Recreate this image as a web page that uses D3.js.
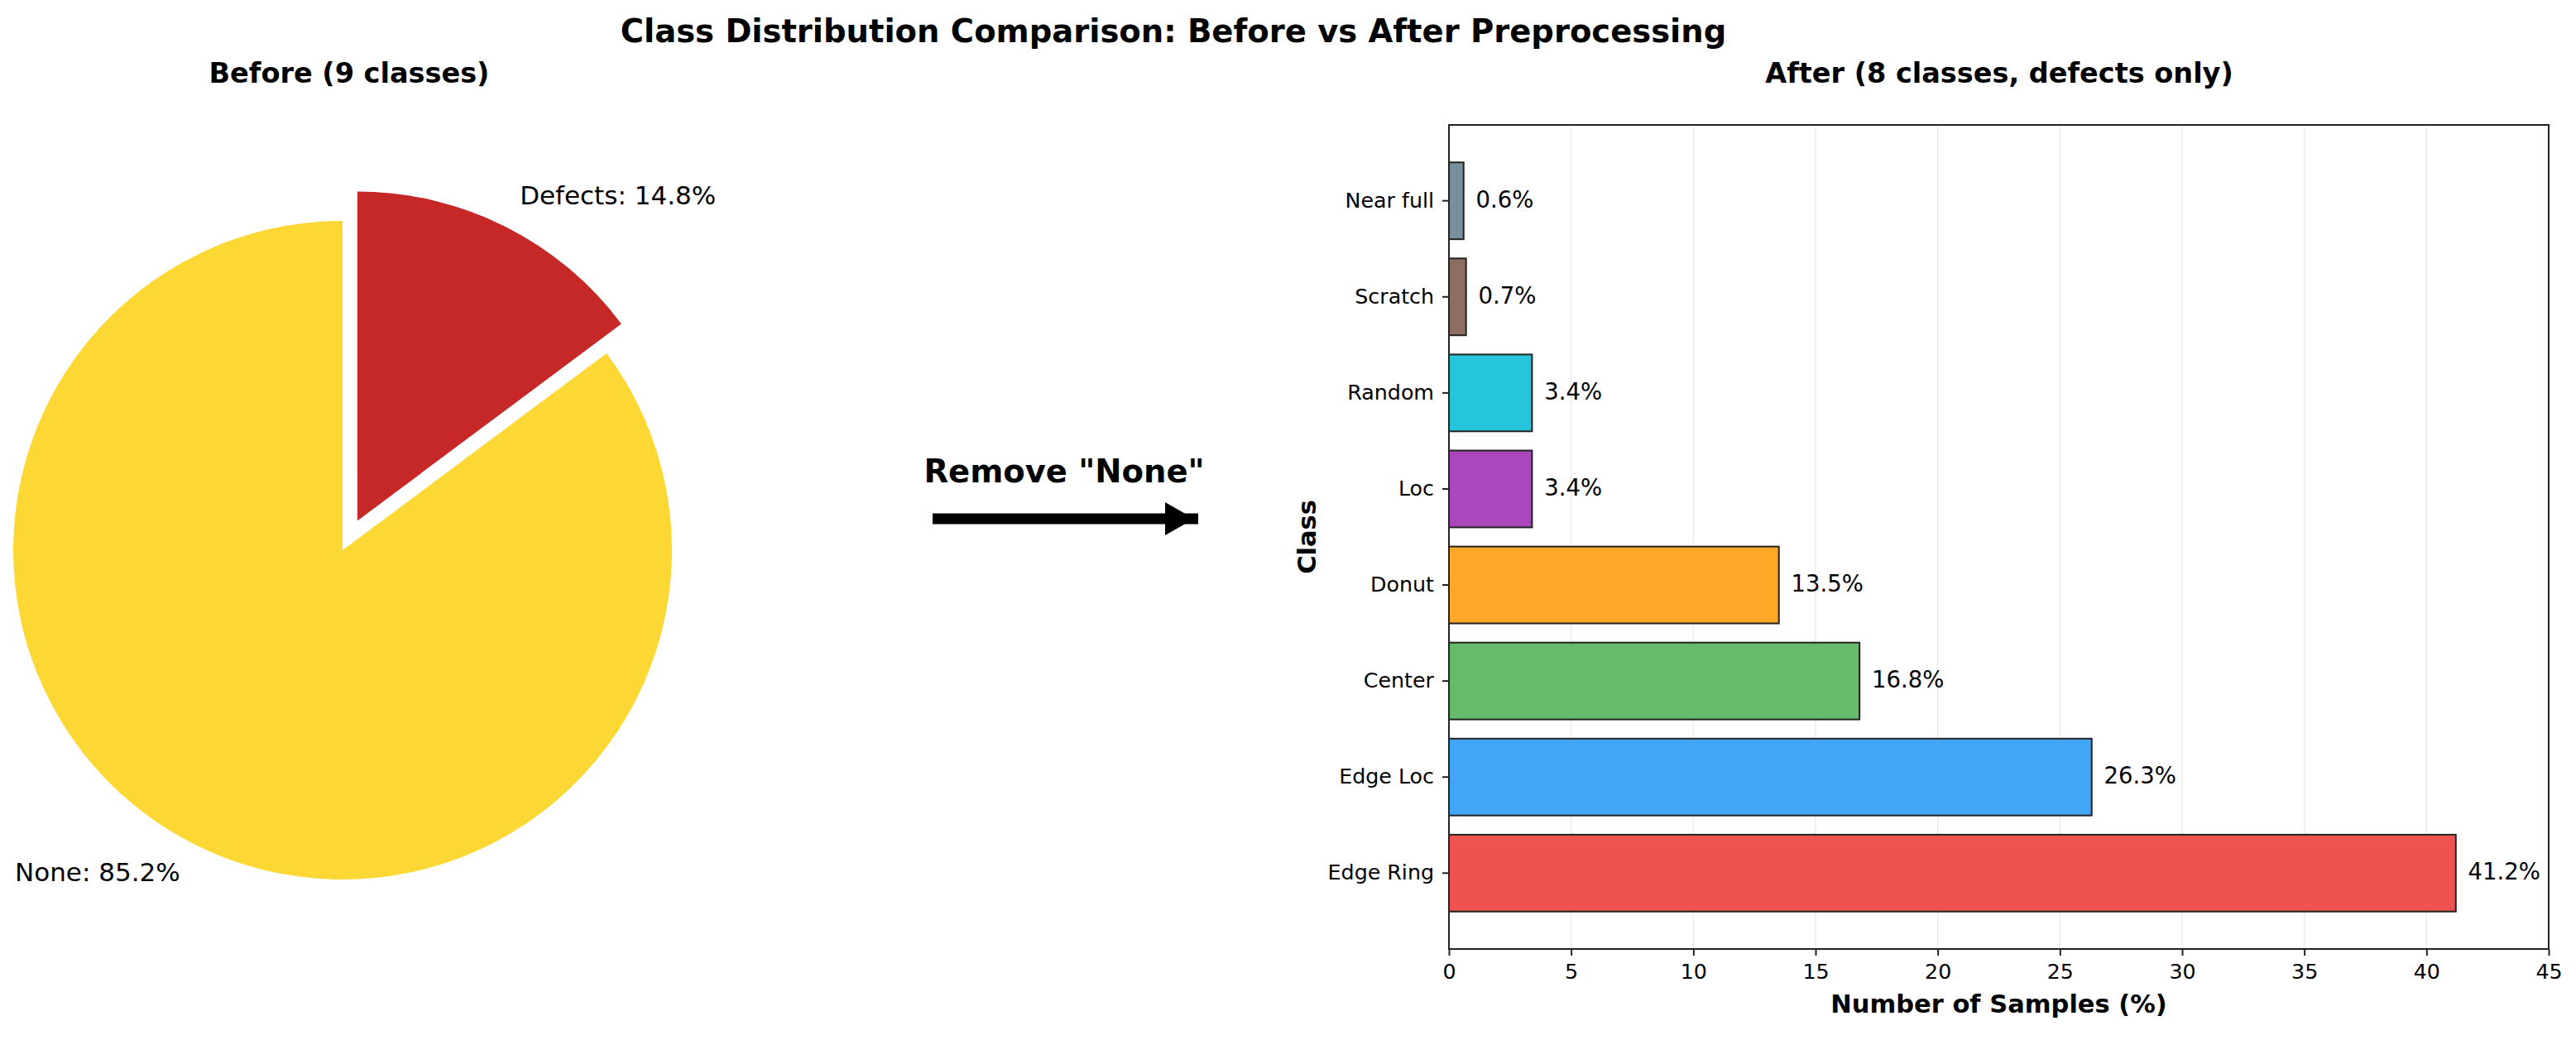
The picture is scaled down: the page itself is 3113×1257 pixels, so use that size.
<!DOCTYPE html>
<html>
<head>
<meta charset="utf-8">
<script src="https://cdn.jsdelivr.net/npm/d3@7"></script>
<style>
  body { margin: 0; background: #fff; }
  text { font-family: "DejaVu Sans", sans-serif; fill: #000; }
</style>
</head>
<body>
<div id="chart"></div>
<script>
// pie data (before)
var pieLabels = ["None", "Defects"];
var pieValues = [85.2, 14.8];
var pieColors = ["#FDD835", "#C62828"];
var pieExplode = [0, 0.1];

// bar data (after), bottom to top
var classes = ["Edge Ring", "Edge Loc", "Center", "Donut", "Loc", "Random", "Scratch", "Near full"];
var classValues = [41.2, 26.3, 16.8, 13.5, 3.4, 3.4, 0.7, 0.6];
var classColors = ["#EF5350", "#42A5F5", "#66BB6A", "#FFA726", "#AB47BC", "#26C6DA", "#8D6E63", "#78909C"];
var xTicks = [0, 5, 10, 15, 20, 25, 30, 35, 40, 45];

function drawChart() {
  var svgWidth = 3113;
  var svgHeight = 1257;

  var svg = d3.select("#chart")
    .append("svg")
    .attr("width", svgWidth)
    .attr("height", svgHeight);

  svg.append("rect").attr("width", svgWidth).attr("height", svgHeight).attr("fill", "#fff");

  // titles
  svg.append("text")
    .attr("x", 1418).attr("y", 51)
    .attr("text-anchor", "middle")
    .style("font-size", "38.5px").style("font-weight", "bold")
    .text("Class Distribution Comparison: Before vs After Preprocessing");

  svg.append("text")
    .attr("x", 422).attr("y", 100)
    .attr("text-anchor", "middle")
    .style("font-size", "33.5px").style("font-weight", "bold")
    .text("Before (9 classes)");

  svg.append("text")
    .attr("x", 2416).attr("y", 100)
    .attr("text-anchor", "middle")
    .style("font-size", "33.5px").style("font-weight", "bold")
    .text("After (8 classes, defects only)");

  // ---- pie ----
  var cx = 414, cy = 665, radius = 398;
  var pieGroup = svg.append("g").attr("transform", `translate(${cx}, ${cy})`);

  var pie = d3.pie().sort(null).startAngle(0).endAngle(-2 * Math.PI);
  var arc = d3.arc().innerRadius(0).outerRadius(radius);
  var slices = pie(pieValues);

  slices.forEach(function (s, i) {
    var mid = (s.startAngle + s.endAngle) / 2;
    var off = pieExplode[i] * radius;
    var dx = Math.sin(mid) * off, dy = -Math.cos(mid) * off;
    pieGroup.append("path")
      .attr("d", arc(s))
      .attr("transform", `translate(${dx}, ${dy})`)
      .attr("fill", pieColors[i]);

    var lr = (pieExplode[i] + 1.1) * radius;
    pieGroup.append("text")
      .attr("x", Math.sin(mid) * lr)
      .attr("y", -Math.cos(mid) * lr)
      .attr("text-anchor", Math.sin(mid) > 0 ? "start" : "end")
      .attr("dominant-baseline", "middle")
      .style("font-size", "31px")
      .text(pieLabels[i] + ": " + pieValues[i].toFixed(1) + "%");
  });

  // ---- arrow ----
  svg.append("text")
    .attr("x", 1286).attr("y", 583)
    .attr("text-anchor", "middle")
    .style("font-size", "38.5px").style("font-weight", "bold")
    .text('Remove "None"');

  svg.append("line")
    .attr("x1", 1127).attr("x2", 1448)
    .attr("y1", 627).attr("y2", 627)
    .attr("stroke", "#000").attr("stroke-width", 13);
  svg.append("path")
    .attr("d", "M1408,607 L1443,627 L1408,647 Z")
    .attr("fill", "#000");

  // ---- bar chart ----
  var plotLeft = 1751, plotRight = 3080, plotTop = 151, plotBottom = 1147;

  var xScale = d3.scaleLinear().domain([0, 45]).range([plotLeft, plotRight]);
  var yScale = d3.scaleBand()
    .domain(classes.slice().reverse())
    .range([plotTop, plotBottom])
    .paddingInner(0.2)
    .paddingOuter(0.39);

  // grid
  svg.append("g").selectAll("line")
    .data(xTicks.slice(1, -1))
    .enter()
    .append("line")
    .attr("x1", d => xScale(d)).attr("x2", d => xScale(d))
    .attr("y1", plotTop).attr("y2", plotBottom)
    .attr("stroke", "#ebebeb").attr("stroke-width", 1.5);

  // bars
  svg.append("g").selectAll("rect")
    .data(classes)
    .enter()
    .append("rect")
    .attr("x", xScale(0))
    .attr("y", d => yScale(d))
    .attr("width", (d, i) => xScale(classValues[i]) - xScale(0))
    .attr("height", yScale.bandwidth())
    .attr("fill", (d, i) => classColors[i])
    .attr("stroke", "#222")
    .attr("stroke-width", 2);

  // value labels
  svg.append("g").selectAll("text")
    .data(classes)
    .enter()
    .append("text")
    .attr("x", (d, i) => xScale(classValues[i] + 0.5))
    .attr("y", d => yScale(d) + yScale.bandwidth() / 2)
    .attr("dominant-baseline", "middle")
    .style("font-size", "27.5px")
    .text((d, i) => classValues[i].toFixed(1) + "%");

  // axes
  var bottomAxis = d3.axisBottom(xScale).tickValues(xTicks).tickSize(8).tickPadding(10);
  var leftAxis = d3.axisLeft(yScale).tickSize(8).tickPadding(10);

  var xAxisG = svg.append("g")
    .attr("transform", `translate(0, ${plotBottom})`)
    .call(bottomAxis);
  var yAxisG = svg.append("g")
    .attr("transform", `translate(${plotLeft}, 0)`)
    .call(leftAxis);

  [xAxisG, yAxisG].forEach(function (g) {
    g.select(".domain").remove();
    g.selectAll(".tick line").attr("stroke", "#222").attr("stroke-width", 2);
    g.selectAll(".tick text")
      .style("font-family", "DejaVu Sans, sans-serif")
      .style("font-size", "25.3px")
      .attr("fill", "#000");
  });

  // frame
  svg.append("rect")
    .attr("x", plotLeft).attr("y", plotTop)
    .attr("width", plotRight - plotLeft).attr("height", plotBottom - plotTop)
    .attr("fill", "none")
    .attr("stroke", "#222").attr("stroke-width", 2);

  // axis labels
  svg.append("text")
    .attr("x", (plotLeft + plotRight) / 2).attr("y", 1224)
    .attr("text-anchor", "middle")
    .style("font-size", "30.5px").style("font-weight", "bold")
    .text("Number of Samples (%)");

  svg.append("text")
    .attr("transform", `translate(1590, ${(plotTop + plotBottom) / 2}) rotate(-90)`)
    .attr("text-anchor", "middle")
    .style("font-size", "30.5px").style("font-weight", "bold")
    .text("Class");
}

drawChart();
</script>
</body>
</html>
